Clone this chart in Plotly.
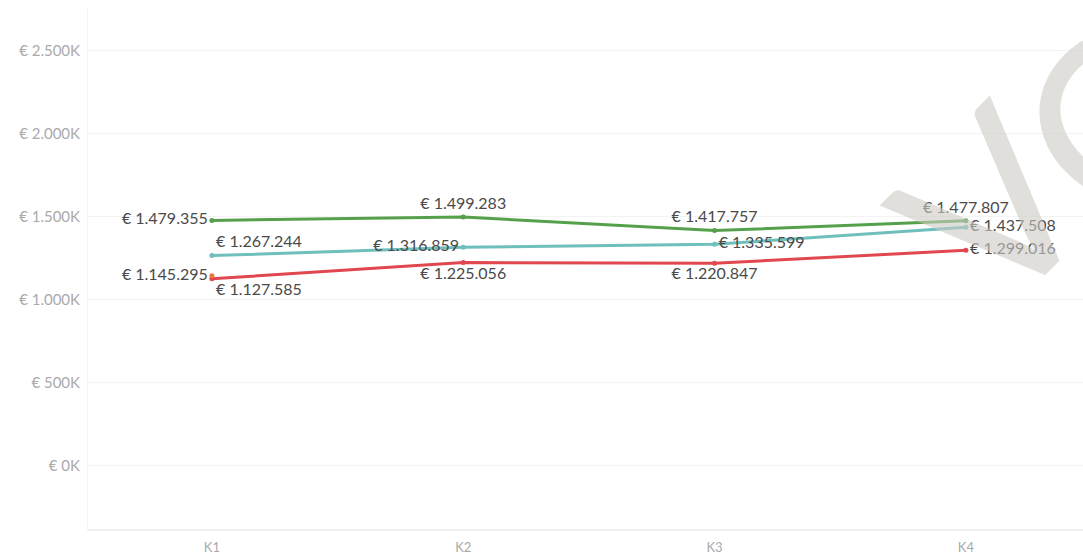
import plotly.graph_objects as go

categories = ["K1", "K2", "K3", "K4"]
green_vals = [1479355, 1499283, 1417757, 1477807]
teal_vals = [1267244, 1316859, 1335599, 1437508]
red_vals = [1127585, 1225056, 1220847, 1299016]
orange_vals = [1145295]
tick_vals = [0, 500000, 1000000, 1500000, 2000000, 2500000]
tick_text = ["€ 0K", "€ 500K", "€ 1.000K", "€ 1.500K", "€ 2.000K", "€ 2.500K"]

green_pos = ["middle left", "top center", "top center", "top center"]
teal_pos = ["top right", "middle left", "middle right", "middle right"]
red_pos = ["bottom right", "bottom center", "bottom center", "middle right"]


def fmt(v):
    return "€ " + f"{v:,}".replace(",", ".")


fig = go.Figure()


def add(vals, color, pos, cats=categories):
    fig.add_trace(go.Scatter(
        x=cats[:len(vals)], y=vals, mode="lines+markers+text",
        line=dict(color=color, width=3),
        marker=dict(color=color, size=5),
        text=[fmt(v) for v in vals], textposition=pos,
        textfont=dict(color="#4a4a4a", size=16, family="Lato"),
        cliponaxis=False, showlegend=False, hoverinfo="x+y"))


add(green_vals, "#55a14b", green_pos)
add(teal_vals, "#6fbfbd", teal_pos)
add(red_vals, "#e0474f", red_pos)
add(orange_vals, "#e8773a", ["middle left"])

wm_font = dict(size=232, color="rgba(205,202,197,0.6)", family="Lato")
fig.add_annotation(text="V", xref="paper", yref="paper", x=0.9055, y=0.623,
                   xanchor="center", yanchor="middle", showarrow=False,
                   textangle=-45, font=wm_font)
fig.add_annotation(text="O", xref="paper", yref="paper", x=1.037, y=0.803,
                   xanchor="center", yanchor="middle", showarrow=False,
                   textangle=-45, font=wm_font)

fig.update_layout(
    width=1083, height=560,
    margin=dict(l=88, r=0, t=7, b=30),
    paper_bgcolor="white", plot_bgcolor="white",
    font=dict(family="Lato"),
    xaxis=dict(range=[-0.493, 3.466], showgrid=False, zeroline=False,
               showline=False, tickfont=dict(color="#aaaaaa", size=13),
               ticks="", ticklabelstandoff=8),
    yaxis=dict(range=[-386000, 2765000], tickvals=tick_vals, ticktext=tick_text,
               gridcolor="#f3f3f3", zeroline=False, showline=True,
               linecolor="#f3f3f3", tickfont=dict(color="#aaaaaa", size=15),
               ticks="", ticklabelstandoff=4),
)
fig.add_shape(type="line", xref="paper", yref="paper", x0=0, x1=1, y0=0, y1=0,
              line=dict(color="#f0f0f0", width=2))

fig.write_html("out.html", config={"displayModeBar": False},
               post_script="document.body.style.margin='0px';")
